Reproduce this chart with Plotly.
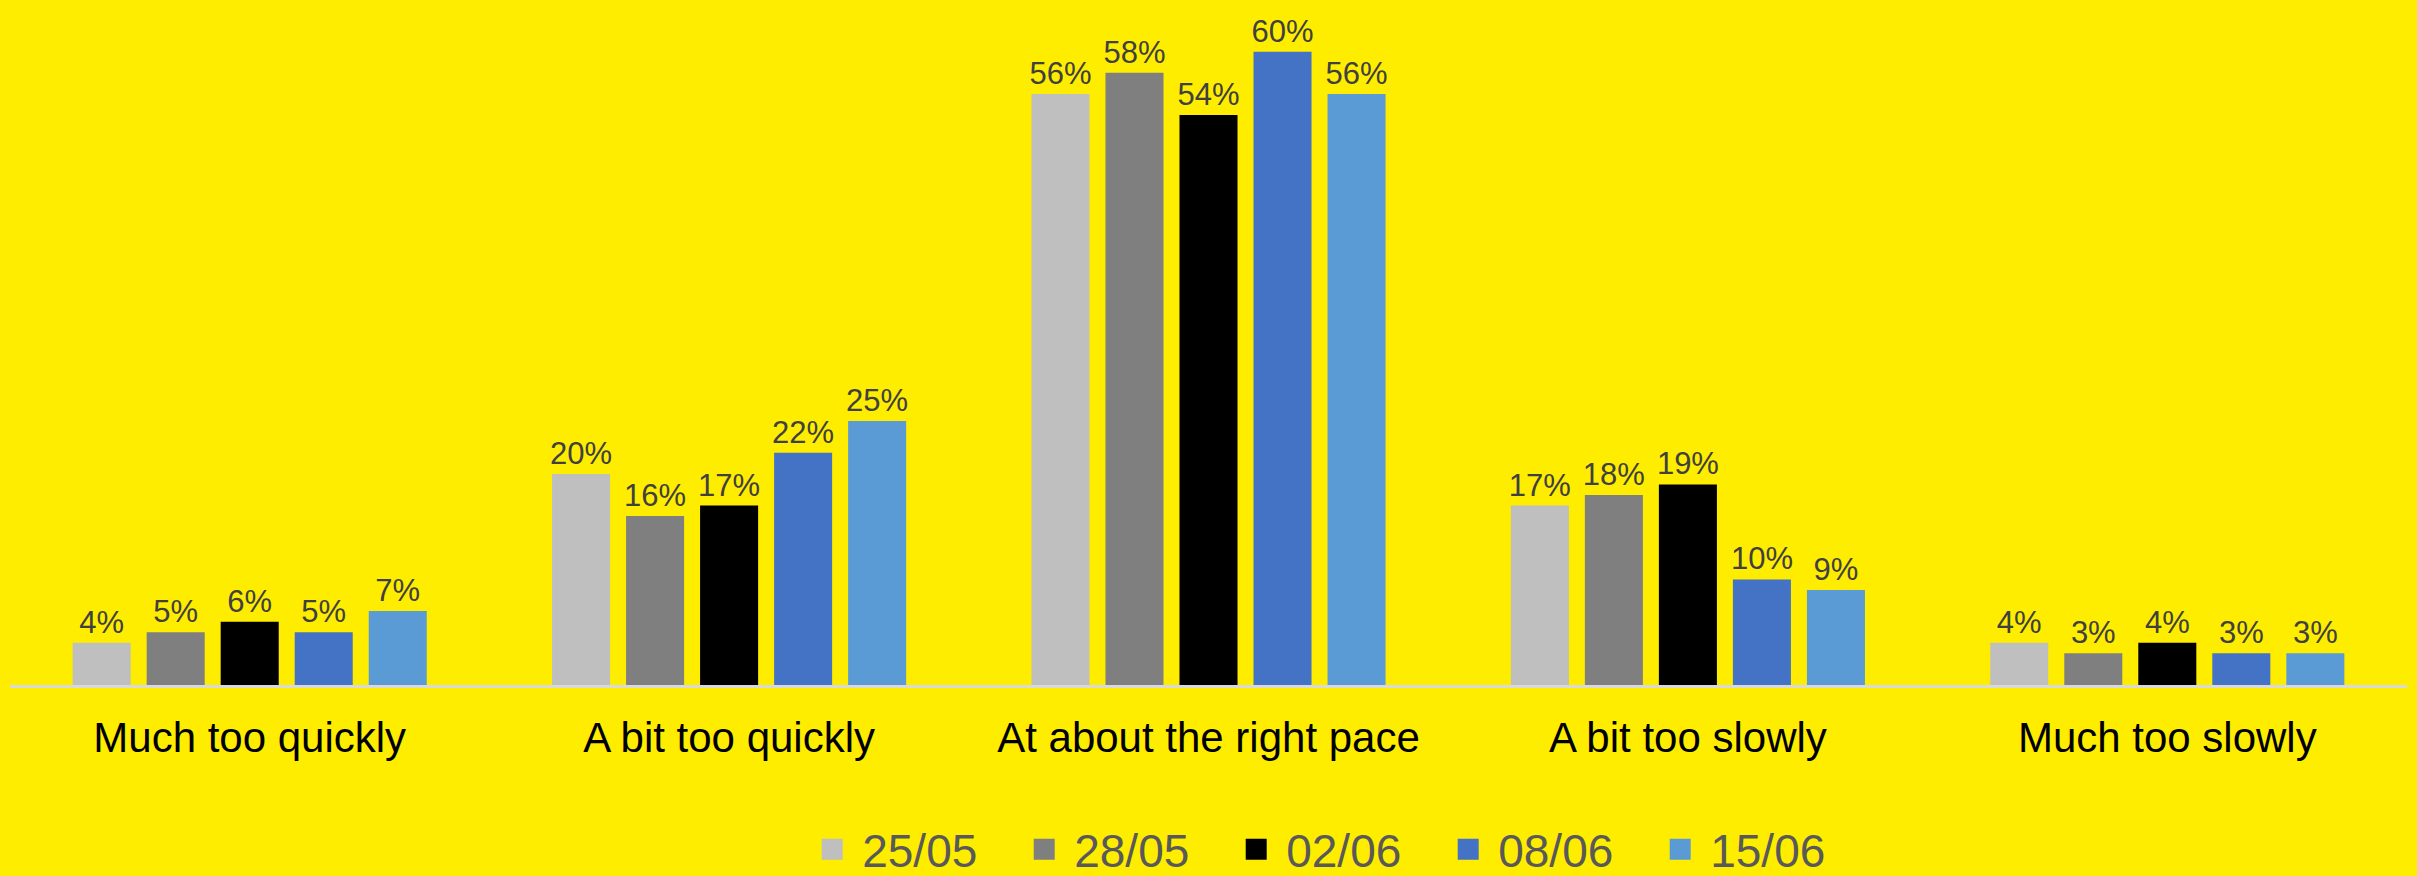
import plotly.graph_objects as go

categories = ["Much too quickly", "A bit too quickly", "At about the right pace", "A bit too slowly", "Much too slowly"]
series_names = ["25/05", "28/05", "02/06", "08/06", "15/06"]
v_2505 = [4, 20, 56, 17, 4]
v_2805 = [5, 16, 58, 18, 3]
v_0206 = [6, 17, 54, 19, 4]
v_0806 = [5, 22, 60, 10, 3]
v_1506 = [7, 25, 56, 9, 3]
series_values = [v_2505, v_2805, v_0206, v_0806, v_1506]
colors = ["#BFBFBF", "#7F7F7F", "#000000", "#4472C4", "#5B9BD5"]

FONT = "Liberation Sans, Arial, sans-serif"
fig = go.Figure()
for name, vals, col in zip(series_names, series_values, colors):
    fig.add_trace(go.Bar(
        x=categories, y=vals, name=name,
        marker=dict(color=col, line=dict(width=12, color="rgba(255,237,0,0)")),
        texttemplate="%{y}%", textposition="outside", constraintext="none",
        textfont=dict(size=31, color="#404040", family=FONT),
        cliponaxis=False, showlegend=False, legendgroup=name,
    ))
for name, col in zip(series_names, colors):
    fig.add_trace(go.Scatter(
        x=[None], y=[None], mode="markers", name=name, legendgroup=name,
        marker=dict(symbol="square", size=16, color=col, line=dict(color=col, width=5)),
    ))

fig.update_layout(
    width=2417, height=876,
    paper_bgcolor="#FFED00", plot_bgcolor="#FFED00",
    margin=dict(l=10, r=10, t=20, b=191, autoexpand=False),
    barmode="group", bargap=0.228, bargroupgap=0.216,
    font=dict(family=FONT),
    xaxis=dict(showline=True, linecolor="#D9D9D9", linewidth=3, showgrid=False,
               ticks="", tickfont=dict(size=42, color="#000000", family=FONT),
               ticklabelstandoff=14, automargin=False),
    yaxis=dict(visible=False, range=[0, 63], showgrid=False, zeroline=False),
    legend=dict(orientation="h", x=0.3305, xanchor="left", y=-0.247, yanchor="middle",
                font=dict(size=46, color="#595959", family=FONT),
                bgcolor="rgba(0,0,0,0)", entrywidth=147, entrywidthmode="pixels",
                itemsizing="trace", itemwidth=50),
)
fig.write_html("out.html", config={"displayModeBar": False},
               post_script="document.body.style.margin='0';document.body.style.padding='0';document.body.style.overflow='hidden';")
